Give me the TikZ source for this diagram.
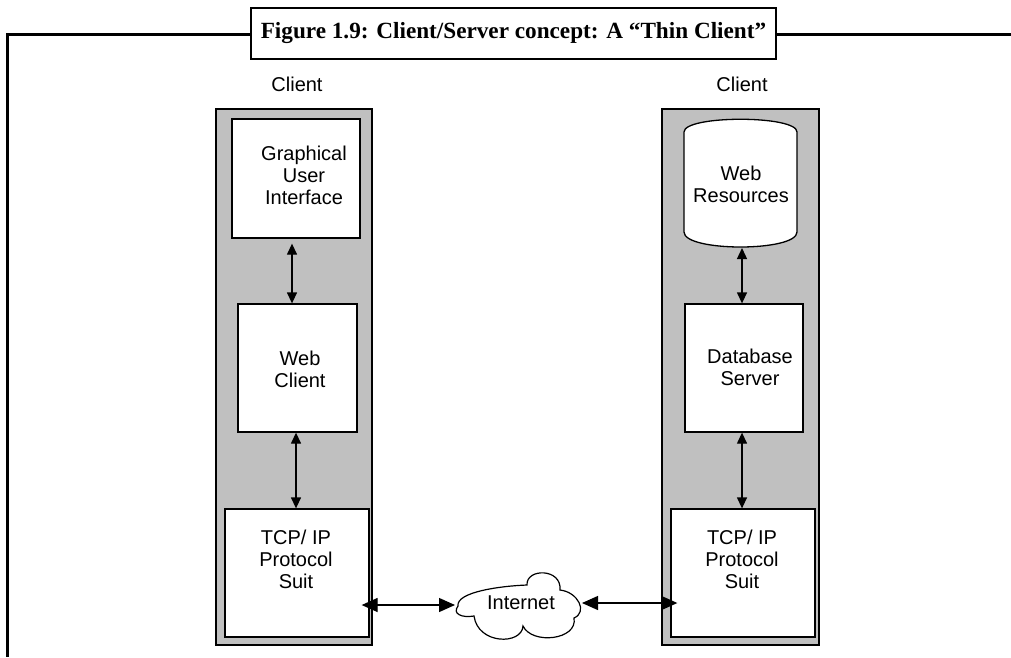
\documentclass[tikz,border=0pt]{standalone}
\usepackage{fontspec}
\setmainfont{Liberation Sans}
\newfontfamily\titlefont{Liberation Serif}
\usetikzlibrary{arrows.meta}
\definecolor{panelgray}{HTML}{C0C0C0}
\begin{document}
\begin{tikzpicture}[x=1pt,y=-1pt,
  panel/.style={draw=black, line width=1.4pt, fill=panelgray, inner sep=0pt},
  box/.style={draw=black, line width=1.3pt, fill=white, inner sep=0pt},
  lbl/.style={font=\fontsize{20}{22}\selectfont, align=center, inner sep=0pt},
  link/.style={line width=1.3pt, {Triangle[length=11pt,width=10pt]}-{Triangle[length=11pt,width=10pt]}},
  netlink/.style={line width=1.3pt, {Triangle[length=16pt,width=14pt]}-{Triangle[length=16pt,width=14pt]}},
]
\useasboundingbox (0,0) rectangle (1011,657);

% outer frame and caption
\draw[line width=3pt] (1011,34) -- (7,34) -- (7,657);
\node[draw, line width=2.4pt, fill=white, minimum width=525pt, minimum height=51pt,
      inner sep=0pt, font=\titlefont\bfseries\fontsize{23.2}{26}\selectfont]
      (title) at (513.5,33.5) {Figure 1.9: Client/Server concept: A “Thin Client”};

% column headings
\node[lbl] (headL) at (297,84) {Client};
\node[lbl] (headR) at (742,84) {Client};

% grey panels
\node[panel, minimum width=156pt, minimum height=536pt] (panelL) at (294,377) {};
\node[panel, minimum width=157pt, minimum height=536pt] (panelR) at (740.5,377) {};

% left column
\node[box, minimum width=128pt, minimum height=119pt] (gui) at (296,178.5) {};
\node[lbl] (guiT) at (304,175) {Graphical\\User\\Interface};
\node[box, minimum width=119pt, minimum height=128pt] (wc) at (297.5,368) {};
\node[lbl] (wcT) at (300,369) {Web\\Client};
\node[box, minimum width=144pt, minimum height=128pt] (tcpL) at (297,573) {};
\node[lbl] (tcpLT) at (296,559) {TCP/ IP\\Protocol\\Suit};

% right column
\draw[box] (684,132) .. controls (684,115) and (797,115) .. (797,132) -- (797,232)
  .. controls (797,252) and (684,252) .. (684,232) -- cycle;
\node[inner sep=0pt, minimum width=113pt, minimum height=128pt] (res) at (740.5,183) {};
\node[lbl] (resT) at (741,184) {Web\\Resources};
\node[box, minimum width=118pt, minimum height=128pt] (db) at (744,368) {};
\node[lbl] (dbT) at (750,367) {Database\\Server};
\node[box, minimum width=144pt, minimum height=128pt] (tcpR) at (743,573) {};
\node[lbl] (tcpRT) at (742,559) {TCP/ IP\\Protocol\\Suit};

% vertical links
\coordinate (xa) at (292,0);
\coordinate (xb) at (296,0);
\coordinate (xc) at (742,0);
\draw[link, shorten <=5pt] (gui.south -| xa) -- (wc.north -| xa);
\draw[link] (wc.south -| xb) -- (tcpL.north -| xb);
\draw[link] (742,248) -- (db.north -| xc);
\draw[link] (db.south -| xc) -- (tcpR.north -| xc);

% internet cloud
\draw[line width=1.2pt, fill=white]
  (458,606) .. controls (456,592) and (500,586) .. (527,585)
  .. controls (526,568) and (562,568) .. (560,590)
  .. controls (578,592) and (588,612) .. (574,618)
  .. controls (578,640) and (532,645) .. (523,626)
  .. controls (522,645) and (478,645) .. (474,616)
  .. controls (462,618) and (452,614) .. (458,606) -- cycle;
\node[lbl] (inet) at (521,603) {Internet};
\coordinate (cw) at (455,605);
\coordinate (ce) at (582,603);

% network links
\draw[netlink, shorten <=-8pt] (tcpL.east |- cw) -- (cw);
\draw[netlink, shorten >=-7pt] (ce) -- (tcpR.west |- ce);
\end{tikzpicture}
\end{document}
